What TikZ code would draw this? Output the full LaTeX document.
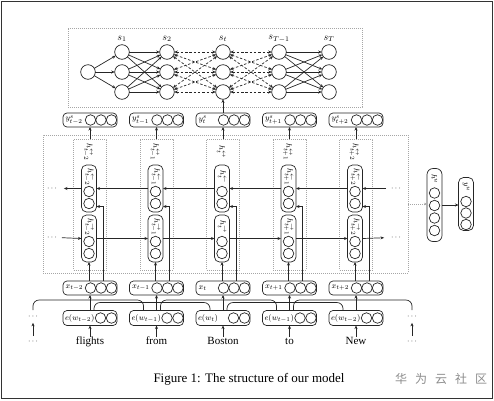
\documentclass[tikz,border=0pt]{standalone}
\usepackage{fontspec}
\setmainfont{Liberation Serif}
\newfontfamily\cjkfont{Noto Sans CJK SC}
\usetikzlibrary{arrows.meta,calc}
\begin{document}
\begin{tikzpicture}[x=1pt,y=-1pt,
  every node/.style={inner sep=0pt, outer sep=0pt},
  ln/.style={line width=0.7pt, draw=black!85},
  arr/.style={ln, -{Stealth[length=3.5pt,width=3pt]}},
  darr/.style={ln, dash pattern=on 2.5pt off 1.8pt, {Stealth[length=3.5pt,width=3pt]}-{Stealth[length=3.5pt,width=3pt]}},
  rbox/.style={draw=black!85, line width=0.7pt, rounded corners=4pt, minimum width=54pt, minimum height=14pt},
  vbox/.style={draw=black!85, line width=0.7pt, rounded corners=5pt, minimum width=15pt, minimum height=47pt},
  cir/.style={circle, draw=black!85, line width=0.7pt, minimum size=10.5pt},
  scir/.style={circle, draw=black!85, line width=0.7pt, minimum size=14.6pt},
  dotbox/.style={draw=black!35, line width=0.6pt, dash pattern=on 0.8pt off 1.2pt},
  lab/.style={font=\fontsize{8.5}{9}\selectfont},
  elab/.style={font=\fontsize{8}{9}\selectfont},
  slab/.style={font=\fontsize{10}{11}\selectfont},
  rlab/.style={font=\fontsize{8.5}{9}\selectfont, rotate=-90},
  word/.style={font=\fontsize{11}{12}\selectfont, text height=8pt, text depth=2.5pt},
]
\useasboundingbox (0,0) rectangle (494,400);
\draw[line width=1pt, black!80] (1.5,1.5) rectangle (492.5,398.5);

% ---------- top network ----------
\node[dotbox, minimum width=294pt, minimum height=79pt] (topbox) at (215,67.5) {};
\node[scir] (in) at (88,72) {};
\foreach \k/\x/\l in {1/122/s_1, 2/167/s_2, 3/223/s_t, 4/279/s_{T-1}, 5/329/s_T} {
  \node[slab] (sl\k) at (\x,39) {$\l$};
  \foreach \r/\y in {1/52,2/72,3/92} \node[scir] (s\k\r) at (\x,\y) {};
}
\foreach \r in {1,2,3} \draw[arr] (in) -- (s1\r);
\foreach \a in {1,2,3} \foreach \b in {1,2,3} {
  \draw[arr] (s1\a) -- (s2\b);
  \draw[arr] (s4\a) -- (s5\b);
  \draw[darr] (s2\a) -- (s3\b);
  \draw[darr] (s3\a) -- (s4\b);
}

% ---------- lower part ----------
\node[dotbox, minimum width=365pt, minimum height=138pt] (big) at (225.5,204) {};

\foreach \i/\c/\sub/\esub/\w in {1/90/{t-2}/{t-2}/flights, 2/156.5/{t-1}/{t-1}/from, 3/223/t/t/Boston, 4/289.5/{t+1}/{t-1}/to, 5/356/{t+2}/{t-2}/New} {
  % y^s boxes
  \node[rbox] (ys\i) at (\c,120) {};
  \node[lab, anchor=west] (ysl\i) at (\c-24.5,120) {$y^s_{\sub}$};
  \foreach \r/\dx in {1/0.5,2/11,3/21.5} \node[cir] (ysc\i\r) at (\c+\dx,120) {};
  % column
  \node[dotbox, minimum width=33pt, minimum height=131pt] (col\i) at (\c,204.5) {};
  \node[rlab] (cl\i) at (\c-2,152) {$h^{\leftrightarrow}_{\sub}$};
  \node[vbox] (bk\i) at (\c-1,188.5) {};
  \node[rlab] (bkl\i) at (\c-1,177) {$h^{\leftarrow}_{\sub}$};
  \node[cir] (bkc\i1) at (\c-1,191.5) {};
  \node[cir] (bkc\i2) at (\c-1,203.5) {};
  \node[vbox] (fw\i) at (\c-1,238.5) {};
  \node[rlab] (fwl\i) at (\c-1,227) {$h^{\rightarrow}_{\sub}$};
  \node[cir] (fwc\i1) at (\c-1,241.5) {};
  \node[cir] (fwc\i2) at (\c-1,253.5) {};
  % x boxes
  \node[rbox] (xb\i) at (\c,288) {};
  \node[lab, anchor=west] (xbl\i) at (\c-24.5,288) {$x_{\sub}$};
  \foreach \r/\dx in {1/0.5,2/11,3/21.5} \node[cir] (xbc\i\r) at (\c+\dx,288) {};
  % e boxes
  \node[rbox, minimum height=15pt] (e\i) at (\c,318) {};
  \node[elab, anchor=west] (el\i) at (\c-25,318) {$e(w_{\esub})$};
  \foreach \r/\dx in {1/10.5,2/21.5} \node[cir] (ec\i\r) at (\c+\dx,318) {};
  % words
  \node[word] (w\i) at (\c,342) {\w};
  % connectors
  \draw[arr] (col\i.north) -- (ys\i.south);
  \draw[arr] (xb\i.north -| fw\i.south) -- (fw\i.south);
  \draw[arr] ($(xb\i.north)+(13,0)$) |- ($(bk\i.east)+(0,18)$);
  \draw[arr] (e\i.north) -- (xb\i.south);
  \draw[arr] (w\i.north) -- (e\i.south);
}
\foreach \i/\j in {1/2,2/3,3/4,4/5} {
  \draw[arr] (bk\j.west) -- (bk\i.east);
  \draw[arr] (fw\i.east) -- (fw\j.west);
}
\draw[arr] (ys3.north) -- (s33.south);

% dots of the recurrent layers
\node[lab] (hd1) at (52,188.5) {$\cdots$};
\node[lab] (hd2) at (52,237.5) {$\cdots$};
\node[lab] (hd3) at (396,188.5) {$\cdots$};
\node[lab] (hd4) at (396,237.5) {$\cdots$};
\draw[arr, shorten >=7pt] (bk1.west) -- (hd1.east);
\draw[arr, shorten <=5pt] (hd2.east) -- (fw1.west);
\draw[arr, shorten <=5pt] (hd3.west) -- (bk5.east);
\draw[arr, shorten >=7pt] (fw5.east) -- (hd4.west);

% intent part
\node[vbox, minimum height=73pt, rounded corners=6pt] (hu) at (434.5,205) {};
\node[rlab] (hul) at (434.5,179) {$h^u$};
\foreach \r/\y in {1/193,2/205.5,3/218,4/230.5} \node[cir] (huc\r) at (434.5,\y) {};
\node[vbox, minimum height=53pt] (yu) at (466,204) {};
\node[rlab] (yul) at (466,187) {$y^u$};
\foreach \r/\y in {1/201.5,2/213,3/224.5} \node[cir] (yuc\r) at (466,\y) {};
\draw[dotbox, -{Stealth[length=3pt,width=2.6pt]}] (big.east) -- (hu.west |- big.east);
\draw[arr] (hu.east) -- (hu.east -| yu.west);

% word-level dots
\node[lab] (ed1) at (33,317) {$\cdots$};
\node[lab] (ed2) at (33,342) {$\cdots$};
\node[lab] (ed3) at (412,317) {$\cdots$};
\node[lab] (ed4) at (412,342) {$\cdots$};
\draw[arr, shorten <=4pt, shorten >=4pt] (ed2.north) -- (ed1.south);
\draw[arr, shorten <=4pt, shorten >=4pt] (ed4.north) -- (ed3.south);

% context-window arcs
\draw[ln, rounded corners=6pt] ($(ed1)+(0,-7)$) |- (xb1.south |- 0,300) -| ($(e2.north)+(-13,0)$);
\draw[ln, rounded corners=6pt] ($(e1.north)+(4,0)$) |- (xb2.south |- 0,302.5) -| ($(e3.north)+(-13,0)$);
\draw[ln, rounded corners=6pt] ($(e2.north)+(4,0)$) |- (xb3.south |- 0,300) -| ($(e4.north)+(-13,0)$);
\draw[ln, rounded corners=6pt] ($(e3.north)+(4,0)$) |- (xb4.south |- 0,302.5) -| ($(e5.north)+(-13,0)$);
\draw[ln, rounded corners=6pt] ($(e4.north)+(4,0)$) |- (xb5.south |- 0,300) -| ($(ed3)+(0,-7)$);

% caption and mark
\node[font=\fontsize{13}{14}\selectfont] (cap) at (249,379) {Figure 1: The structure of our model};
\node[font=\cjkfont\fontsize{12}{13}\selectfont, text=black!45] (wm) at (441,379) {华\hspace{8pt}为\hspace{8pt}云\hspace{8pt}社\hspace{8pt}区};
\end{tikzpicture}
\end{document}
